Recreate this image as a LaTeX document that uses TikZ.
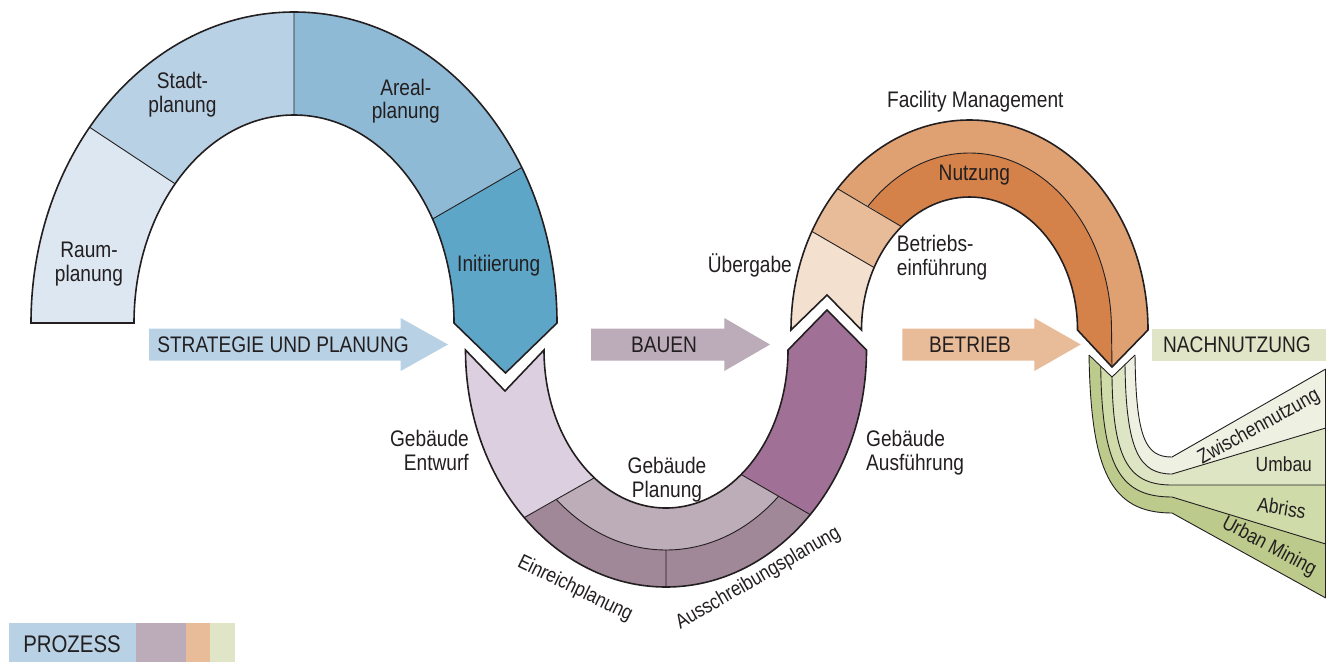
\documentclass[tikz,border=0pt]{standalone}
\usepackage{fontspec}
\setmainfont{Liberation Sans}[FakeStretch=0.85]
\definecolor{ink}{HTML}{231F20}
\definecolor{raum}{HTML}{DDE7F1}
\definecolor{stadt}{HTML}{B9D1E5}
\definecolor{areal}{HTML}{8FBAD6}
\definecolor{init}{HTML}{5EA6C8}
\definecolor{entwurf}{HTML}{DCCFDF}
\definecolor{planung}{HTML}{BCADB8}
\definecolor{einreich}{HTML}{A08899}
\definecolor{ausf}{HTML}{A07096}
\definecolor{ueberg}{HTML}{F3E0CF}
\definecolor{betrein}{HTML}{E8BC98}
\definecolor{facil}{HTML}{DFA172}
\definecolor{nutz}{HTML}{D4824A}
\definecolor{gUrban}{HTML}{BCCB8C}
\definecolor{gAbriss}{HTML}{D0DBAA}
\definecolor{gUmbau}{HTML}{DEE5C5}
\definecolor{gZw}{HTML}{EEF1E2}
\definecolor{legblue}{HTML}{B8D1E5}
\definecolor{legpurple}{HTML}{BCABB8}
\definecolor{legorange}{HTML}{E8BC98}
\definecolor{leggreen}{HTML}{DFE5C6}
\tikzset{
  outline/.style={draw=ink, line width=1.6pt, line join=miter},
  divider/.style={draw=ink, line width=0.9pt},
  lbl/.style={text=ink, inner sep=0pt, font=\fontsize{22.5}{23.5}\selectfont},
  smalllbl/.style={text=ink, inner sep=0pt, font=\fontsize{20.5}{22}\selectfont},
  biglbl/.style={text=ink, inner sep=0pt, font=\fontsize{24}{26}\selectfont},
  BO/.style={x radius=263pt, y radius=311pt},
  BI/.style={x radius=160pt, y radius=208pt},
  PO/.style={x radius=200.5pt, y radius=237pt},
  PM/.style={x radius=165pt, y radius=200pt},
  PI/.style={x radius=122pt, y radius=158pt},
  OO/.style={x radius=178.5pt, y radius=210pt},
  OM/.style={x radius=142pt, y radius=177pt},
  OI/.style={x radius=108pt, y radius=133pt},
}
\begin{document}
\begin{tikzpicture}[x=1pt,y=1pt]
\useasboundingbox (0,0) rectangle (1335,-662);

% ---------- blue arch (Strategie und Planung)
\begin{scope}[shift={(294,-323)}]
  \fill[raum] (180:263pt and 311pt) arc[start angle=180,end angle=141,BO]
     -- (138:160pt and 208pt) arc[start angle=138,end angle=180,BI] -- cycle;
  \fill[stadt] (141:263pt and 311pt) arc[start angle=141,end angle=90,BO]
     -- (90:160pt and 208pt) arc[start angle=90,end angle=138,BI] -- cycle;
  \fill[areal] (90:263pt and 311pt) arc[start angle=90,end angle=30,BO]
     -- (30:160pt and 208pt) arc[start angle=30,end angle=90,BI] -- cycle;
  \fill[init] (30:263pt and 311pt) arc[start angle=30,end angle=0,BO]
     -- (211.5,-50) -- (160,0) arc[start angle=0,end angle=30,BI] -- cycle;
  \draw[divider] (141:263pt and 311pt) -- (138:160pt and 208pt)
     (90:263pt and 311pt) -- (90:160pt and 208pt)
     (30:263pt and 311pt) -- (30:160pt and 208pt);
  \draw[outline] (180:263pt and 311pt) arc[start angle=180,end angle=0,BO]
     -- (211.5,-50) -- (160,0) arc[start angle=0,end angle=180,BI] -- cycle;
\end{scope}

% ---------- purple arch (Bauen)
\begin{scope}[shift={(666,-350)}]
  \fill[entwurf] (180:200.5pt and 237pt) arc[start angle=180,end angle=225,PO]
     -- (234:122pt and 158pt) arc[start angle=234,end angle=180,PI] -- (-161,-41) -- cycle;
  \fill[planung] (228.5:165pt and 200pt) arc[start angle=228.5,end angle=313,PM]
     -- (308:122pt and 158pt) arc[start angle=308,end angle=234,PI] -- cycle;
  \fill[einreich] (225:200.5pt and 237pt) arc[start angle=225,end angle=316,PO]
     -- (313:165pt and 200pt) arc[start angle=313,end angle=228.5,PM] -- cycle;
  \fill[ausf] (316:200.5pt and 237pt) arc[start angle=316,end angle=360,PO]
     -- (161,40) -- (122,0) arc[start angle=360,end angle=308,PI] -- cycle;
  \draw[divider] (225:200.5pt and 237pt) -- (234:122pt and 158pt)
     (316:200.5pt and 237pt) -- (308:122pt and 158pt)
     (228.5:165pt and 200pt) arc[start angle=228.5,end angle=313,PM]
     (270:200.5pt and 237pt) -- (270:165pt and 200pt);
  \draw[outline] (180:200.5pt and 237pt) arc[start angle=180,end angle=360,PO]
     -- (161,40) -- (122,0) arc[start angle=360,end angle=180,PI] -- (-161,-41) -- cycle;
\end{scope}

% ---------- orange arch (Betrieb)
\begin{scope}[shift={(969.5,-330)}]
  \fill[ueberg] (180:178.5pt and 210pt) arc[start angle=180,end angle=152,OO]
     -- (152:108pt and 133pt) arc[start angle=152,end angle=180,OI] -- (-142.5,35) -- cycle;
  \fill[betrein] (152:178.5pt and 210pt) arc[start angle=152,end angle=137.7,OO]
     -- (129:108pt and 133pt) arc[start angle=129,end angle=152,OI] -- cycle;
  \fill[facil] (137.7:178.5pt and 210pt) arc[start angle=137.7,end angle=0,OO]
     -- (142.5,-37) -- (142,0) arc[start angle=0,end angle=135.5,OM] -- cycle;
  \fill[nutz] (135.5:142pt and 177pt) arc[start angle=135.5,end angle=0,OM]
     -- (142.5,-37) -- (108,0) arc[start angle=0,end angle=129,OI] -- cycle;
  \draw[divider] (152:178.5pt and 210pt) -- (152:108pt and 133pt)
     (137.7:178.5pt and 210pt) -- (129:108pt and 133pt)
     (135.5:142pt and 177pt) arc[start angle=135.5,end angle=0,OM] -- (142.5,-37);
  \draw[outline] (180:178.5pt and 210pt) arc[start angle=180,end angle=0,OO]
     -- (142.5,-37) -- (108,0) arc[start angle=0,end angle=180,OI] -- (-142.5,35) -- cycle;
\end{scope}

% ---------- green fan (Nachnutzung)
\fill[gUrban] (1089,-355) .. controls (1091,-470) and (1110,-513) .. (1172,-513) -- (1325.7,-598)
   -- (1325.7,-544) -- (1172,-497) .. controls (1120,-497) and (1102,-467) .. (1100.7,-366.2) -- cycle;
\fill[gAbriss] (1100.7,-366.2) .. controls (1102,-467) and (1120,-497) .. (1172,-497) -- (1325.7,-544)
   -- (1325.7,-485) -- (1172,-485) .. controls (1130,-485) and (1113,-462) .. (1112,-377) -- cycle;
\fill[gUmbau] (1112,-377) .. controls (1113,-462) and (1130,-485) .. (1172,-485) -- (1325.7,-485)
   -- (1325.7,-428) -- (1172,-474) .. controls (1140,-474) and (1126,-452) .. (1125,-364.6) -- cycle;
\fill[gZw] (1125,-364.6) .. controls (1126,-452) and (1140,-474) .. (1172,-474) -- (1325.7,-428)
   -- (1325.7,-369) -- (1172,-457) .. controls (1146,-457) and (1136,-440) .. (1135,-355) -- cycle;
\draw[divider] (1089,-355) .. controls (1091,-470) and (1110,-513) .. (1172,-513) -- (1325.7,-598);
\draw[divider] (1100.7,-366.2) .. controls (1102,-467) and (1120,-497) .. (1172,-497) -- (1325.7,-544);
\draw[divider] (1112,-377) .. controls (1113,-462) and (1130,-485) .. (1172,-485) -- (1325.7,-485);
\draw[divider] (1125,-364.6) .. controls (1126,-452) and (1140,-474) .. (1172,-474) -- (1325.7,-428);
\draw[divider] (1135,-355) .. controls (1136,-440) and (1146,-457) .. (1172,-457) -- (1325.7,-369);
\draw[divider] (1325.7,-369) -- (1325.7,-598);
\draw[divider] (1089,-355) -- (1112,-377) -- (1135,-355);

% ---------- phase arrows
\fill[legblue] (149,-328.5) -- (400.7,-328.5) -- (400.7,-318) -- (448,-344.5)
   -- (400.7,-371) -- (400.7,-360.5) -- (149,-360.5) -- cycle;
\fill[legpurple] (591,-328.5) -- (724.3,-328.5) -- (724.3,-318) -- (770,-344.5)
   -- (724.3,-371) -- (724.3,-360.5) -- (591,-360.5) -- cycle;
\fill[legorange] (902.3,-328.5) -- (1034.3,-328.5) -- (1034.3,-318) -- (1080.7,-344.5)
   -- (1034.3,-371) -- (1034.3,-360.5) -- (902.3,-360.5) -- cycle;
\fill[leggreen] (1151.7,-328.5) rectangle (1325.7,-360.5);

\node[lbl] (strat) at (283,-344.5) {STRATEGIE UND PLANUNG};
\node[lbl] (bauen) at (664,-344.5) {BAUEN};
\node[lbl] (betrieb) at (970,-344.5) {BETRIEB};
\node[lbl] (nachn) at (1237,-344.5) {NACHNUTZUNG};

% ---------- legend
\fill[legblue] (9,-622.7) rectangle (136,-662);
\fill[legpurple] (136,-622.7) rectangle (186,-662);
\fill[legorange] (186,-622.7) rectangle (210,-662);
\fill[leggreen] (210,-622.7) rectangle (235,-662);
\node[biglbl] (prozess) at (72,-644) {PROZESS};

% ---------- labels
\node[lbl, align=center] (raumL) at (89,-264) {Raum-\\planung};
\node[lbl, align=center] (stadtL) at (182.5,-94.6) {Stadt-\\planung};
\node[lbl, align=center] (arealL) at (405.8,-101) {Areal-\\planung};
\node[lbl] (initL) at (498.7,-266) {Initiierung};
\node[lbl, align=right, anchor=east] (entwL) at (469,-450.2) {Gebäude\\Entwurf};
\node[lbl, align=center] (planL) at (667,-479.9) {Gebäude\\Planung};
\node[lbl, align=left, anchor=west] (ausfL) at (866,-452.8) {Gebäude\\Ausführung};
\node[smalllbl, rotate=-26] (einrL) at (575,-589) {Einreichplanung};
\node[smalllbl, rotate=30] (ausschrL) at (758.3,-578.3) {Ausschreibungsplanung};
\node[lbl, anchor=east] (uebL) at (792,-265.7) {Übergabe};
\node[lbl, align=left, anchor=west] (betrL) at (896.7,-257.8) {Betriebs-\\einführung};
\node[lbl] (nutzL) at (974.3,-175.5) {Nutzung};
\node[lbl] (facL) at (975.3,-101.3) {Facility Management};
\node[smalllbl, rotate=29] (zwL) at (1259,-427.3) {Zwischennutzung};
\node[smalllbl] (umbL) at (1283.8,-463.8) {Umbau};
\node[smalllbl, rotate=-9] (abrL) at (1281.7,-507.7) {Abriss};
\node[smalllbl, rotate=-28] (urbL) at (1269,-546.7) {Urban Mining};
\end{tikzpicture}
\end{document}
